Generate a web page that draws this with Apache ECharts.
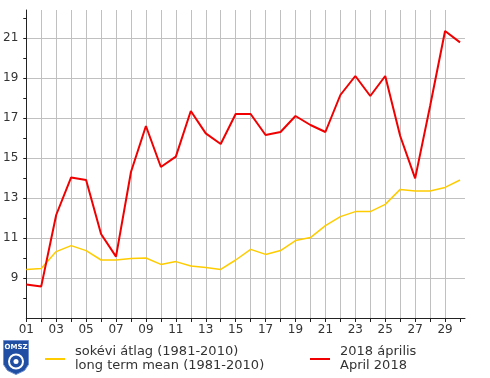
<!DOCTYPE html>
<html>
<head>
<meta charset="utf-8">
<script src="https://cdn.jsdelivr.net/npm/echarts@6/dist/echarts.min.js"></script>
<style>
  html, body { margin: 0; padding: 0; background: #fff; }
  #main { width: 490px; height: 378px; }
</style>
</head>
<body>
<div id="main"></div>
<script>
// napok (április)
var days = [1, 2, 3, 4, 5, 6, 7, 8, 9, 10, 11, 12, 13, 14, 15,
            16, 17, 18, 19, 20, 21, 22, 23, 24, 25, 26, 27, 28, 29, 30];
// sokévi átlag (1981-2010)
var meanVals = [9.43, 9.48, 10.32, 10.62, 10.37, 9.9, 9.9, 9.98, 10.0, 9.68,
                9.82, 9.6, 9.52, 9.43, 9.9, 10.43, 10.18, 10.37, 10.87, 11.02,
                11.62, 12.07, 12.32, 12.32, 12.68, 13.43, 13.35, 13.35, 13.53, 13.9];
// 2018 április
var aprVals = [8.68, 8.58, 12.15, 14.03, 13.9, 11.2, 10.07, 14.3, 16.6, 14.55,
               15.07, 17.35, 16.23, 15.7, 17.2, 17.2, 16.15, 16.3, 17.1, 16.65,
               16.3, 18.15, 19.1, 18.1, 19.1, 16.1, 13.98, 17.6, 21.35, 20.78];
var yTicks = [8, 9, 10, 11, 12, 13, 14, 15, 16, 17, 18, 19, 20, 21, 22];
var xLabels = [1, 3, 5, 7, 9, 11, 13, 15, 17, 19, 21, 23, 25, 27, 29];

var meanName = 'sokévi átlag (1981-2010)\nlong term mean (1981-2010)';
var aprName = '2018 április\nApril 2018';

function pairs(vals) {
    return days.map(function (d, i) { return [d, vals[i]]; });
}

var myChart = echarts.init(document.getElementById('main'));
var txt = '#333';
var font = 'DejaVu Sans';

myChart.setOption({
    animation: false,
    backgroundColor: '#fff',
    textStyle: { fontFamily: font },
    grid: { left: 25, right: 25, top: 10, bottom: 60, containLabel: false },
    legend: [{
        data: [meanName],
        left: 40, top: 340,
        icon: 'rect', itemWidth: 20, itemHeight: 2,
        textStyle: { color: txt, fontSize: 13, fontFamily: font, lineHeight: 14, padding: [0, 0, 0, 5] }
    }, {
        data: [aprName],
        left: 305, top: 340,
        icon: 'rect', itemWidth: 20, itemHeight: 2,
        textStyle: { color: txt, fontSize: 13, fontFamily: font, lineHeight: 14, padding: [0, 0, 0, 5] }
    }],
    xAxis: {
        type: 'value',
        min: 1,
        max: 30.333,
        interval: 1,
        axisLine: { lineStyle: { color: '#222', width: 1 } },
        axisTick: { length: 4, lineStyle: { color: '#222' }, customValues: days },
        axisLabel: {
            color: txt, fontSize: 12, fontFamily: font, margin: 6,
            customValues: xLabels,
            formatter: function (v) { return (v < 10 ? '0' : '') + v; }
        },
        splitLine: { show: true, showMinLine: false, showMaxLine: false,
                     lineStyle: { color: '#c0c0c0', width: 1 } }
    },
    yAxis: [{
        type: 'value',
        min: 7,
        max: 22.4,
        interval: 2,
        axisLine: { show: true, lineStyle: { color: '#222', width: 1 } },
        axisTick: { show: false },
        axisLabel: {
            color: txt, fontSize: 12, fontFamily: font, margin: 8,
            showMinLabel: false, showMaxLabel: false
        },
        splitLine: { show: true, showMinLine: false, showMaxLine: false,
                     lineStyle: { color: '#c0c0c0', width: 1 } }
    }, {
        type: 'value',
        position: 'left',
        min: 7,
        max: 22.4,
        interval: 1,
        axisLine: { show: false },
        axisTick: { show: true, inside: false, length: 3, lineStyle: { color: '#222' }, customValues: yTicks },
        axisLabel: { show: false },
        splitLine: { show: false }
    }],
    series: [{
        name: meanName,
        type: 'line',
        data: pairs(meanVals),
        showSymbol: false,
        color: '#ffcc00',
        lineStyle: { color: '#ffcc00', width: 1.5 },
        z: 2
    }, {
        name: aprName,
        type: 'line',
        data: pairs(aprVals),
        showSymbol: false,
        color: '#f00000',
        lineStyle: { color: '#f00000', width: 2 },
        z: 3
    }],
    graphic: [{
        type: 'group',
        left: 3, top: 340,
        children: [{
            type: 'polygon',
            shape: { points: [[0, 0], [25, 0], [25, 24], [21, 30], [12.5, 34], [4, 30], [0, 24]] },
            style: { fill: '#1f4ea3', stroke: '#6f8fd0', lineWidth: 1 }
        }, {
            type: 'text',
            x: 12.5, y: 3,
            style: { text: 'OMSZ', fill: '#fff', font: 'bold 7px DejaVu Sans', align: 'center' }
        }, {
            type: 'circle',
            shape: { cx: 12.5, cy: 21, r: 7 },
            style: { fill: 'none', stroke: '#fff', lineWidth: 2 }
        }, {
            type: 'circle',
            shape: { cx: 12.5, cy: 21, r: 2.5 },
            style: { fill: '#fff' }
        }]
    }]
});
</script>
</body>
</html>
